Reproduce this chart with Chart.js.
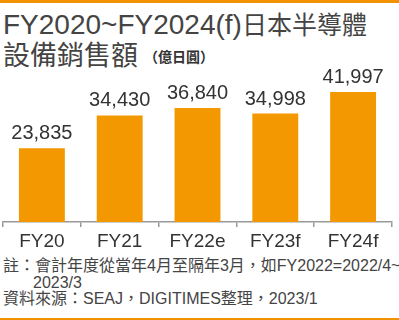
<!DOCTYPE html>
<html>
<head>
<meta charset="utf-8">
<script src="https://cdn.jsdelivr.net/npm/chart.js@4/dist/chart.umd.min.js"></script>
<style>
  body { margin: 0; background: #fff; }
  #wrap { position: relative; width: 399px; height: 320px; overflow: hidden; font-family: "Liberation Sans", "Noto Sans CJK TC", sans-serif; color: #444; }
  .bar-top { position: absolute; left: 0; top: 0; width: 399px; height: 3px; background: #f39200; }
  .bar-bot { position: absolute; left: 0; top: 318px; width: 399px; height: 2px; background: #f39200; }
  .t1 { position: absolute; left: 3px; top: 8px; font-size: 28px; line-height: 30px; white-space: nowrap; }
  .t1 .cjk { font-family: "Noto Sans CJK TC", sans-serif; font-size: 25px; }
  .t2 { position: absolute; left: 3px; top: 37px; font-family: "Noto Sans CJK TC", sans-serif; font-size: 27px; line-height: 34px; white-space: nowrap; }
  .t2 .unit { font-size: 14px; font-weight: bold; margin-left: 6px; vertical-align: 3px; color: #333; }
  .note { position: absolute; left: 3px; font-size: 16px; line-height: 17px; white-space: nowrap; color: #444; }
  #chartBox { position: absolute; left: 0; top: 60px; width: 399px; height: 190px; }
</style>
</head>
<body>
<div id="wrap">
  <div class="bar-top"></div>
  <div class="t1">FY2020~FY2024(f)<span class="cjk">日本半導體</span></div>
  <div class="t2">設備銷售額<span class="unit">（億日圓）</span></div>
  <div id="chartBox"><canvas id="chartCanvas" width="399" height="190"></canvas></div>
  <div class="note" style="top:257px">註：會計年度從當年4月至隔年3月，如FY2022=2022/4~</div>
  <div class="note" style="top:274px; left:33px">2023/3</div>
  <div class="note" style="top:290px">資料來源：SEAJ，DIGITIMES整理，2023/1</div>
  <div class="bar-bot"></div>
</div>
<script>
const years = ["FY20", "FY21", "FY22e", "FY23f", "FY24f"];
const sales = [23835, 34430, 36840, 34998, 41997];

// value labels above each bar
const valueLabels = {
  id: "valueLabels",
  afterDatasetsDraw(chart) {
    const ctx = chart.ctx;
    const meta = chart.getDatasetMeta(0);
    ctx.save();
    ctx.font = "20px 'Liberation Sans'";
    ctx.fillStyle = "#333";
    ctx.textAlign = "center";
    ctx.textBaseline = "alphabetic";
    meta.data.forEach((bar, i) => {
      ctx.fillText(sales[i].toLocaleString("en-US"), bar.x, bar.y - 9);
    });
    ctx.restore();
  }
};

const chart = new Chart(document.getElementById("chartCanvas"), {
  type: "bar",
  data: {
    labels: years,
    datasets: [{
      data: sales,
      backgroundColor: "#f39800",
      barPercentage: 0.59,
      categoryPercentage: 1
    }]
  },
  options: {
    responsive: false,
    animation: false,
    layout: { padding: { top: 18, left: 3, right: 7, bottom: 0 } },
    plugins: { legend: { display: false }, tooltip: { enabled: false } },
    scales: {
      x: {
        border: { color: "#999", width: 1.5 },
        grid: { drawOnChartArea: false, drawTicks: true, tickLength: 5, color: "#999", lineWidth: 1.5 },
        ticks: { color: "#333", font: { family: "Liberation Sans", size: 19 }, padding: 3 },
        afterFit(scale) { scale.height = 28; }
      },
      y: {
        display: false,
        min: 0,
        max: 46500
      }
    }
  },
  plugins: [valueLabels]
});
</script>
</body>
</html>
